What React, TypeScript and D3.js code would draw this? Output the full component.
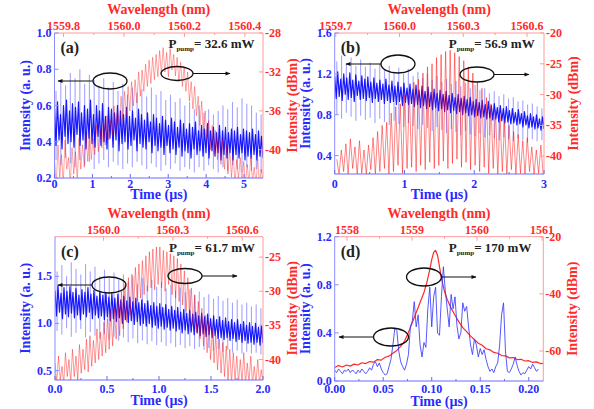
import React from 'react';
import * as d3 from 'd3';

// ---- panel (a) ----
const aBlueCore = [
  0.58, 0.38, 0.62, 0.41, 0.55, 0.36, 0.60, 0.43, 0.63, 0.39,
  0.57, 0.40, 0.61, 0.37, 0.59, 0.44, 0.62, 0.38, 0.56, 0.41,
  0.60, 0.36, 0.58, 0.42, 0.63, 0.39, 0.55, 0.37, 0.60, 0.43,
  0.57, 0.38, 0.61, 0.40, 0.54, 0.36, 0.59, 0.42, 0.58, 0.37,
  0.56, 0.41, 0.60, 0.35, 0.57, 0.39, 0.55, 0.40, 0.59, 0.36,
  0.54, 0.38, 0.57, 0.41, 0.53, 0.35, 0.58, 0.39, 0.55, 0.37,
  0.52, 0.36, 0.56, 0.40, 0.51, 0.34, 0.55, 0.38, 0.53, 0.35,
  0.50, 0.37, 0.54, 0.33, 0.52, 0.38, 0.49, 0.34, 0.53, 0.36,
  0.51, 0.33, 0.48, 0.37, 0.52, 0.32, 0.50, 0.35, 0.47, 0.34,
  0.50, 0.31, 0.48, 0.36, 0.51, 0.33, 0.46, 0.35, 0.49, 0.32,
  0.47, 0.34, 0.50, 0.31, 0.46, 0.35, 0.48, 0.32, 0.45, 0.34,
  0.49, 0.30, 0.46, 0.33, 0.48, 0.31, 0.45, 0.34, 0.47, 0.30,
  0.46, 0.33, 0.48, 0.31, 0.44, 0.34, 0.47, 0.30, 0.46, 0.32,
  0.45, 0.31, 0.47, 0.33, 0.44, 0.30, 0.46, 0.32, 0.43, 0.31,
];
const aSpikeHi = [
  0.68, 0.74, 0.71, 0.78, 0.75, 0.80, 0.72, 0.77, 0.74, 0.71,
  0.75, 0.70, 0.73, 0.68, 0.72, 0.66, 0.70, 0.67, 0.69, 0.65,
  0.70, 0.66, 0.68, 0.63, 0.66, 0.62, 0.64, 0.60, 0.62, 0.58,
  0.60, 0.56, 0.58, 0.55, 0.57, 0.60, 0.58, 0.62, 0.59, 0.64,
  0.61, 0.60, 0.56, 0.55,
];
const aSpikeLo = [
  0.30, 0.27, 0.31, 0.28, 0.26, 0.30, 0.27, 0.29, 0.25, 0.28,
  0.30, 0.26, 0.29, 0.27, 0.25, 0.28, 0.26, 0.29, 0.27, 0.25,
  0.28, 0.26, 0.24, 0.27, 0.25, 0.28, 0.24, 0.26, 0.25, 0.23,
  0.26, 0.24, 0.27, 0.25, 0.23, 0.26, 0.24, 0.27, 0.25, 0.23,
  0.26, 0.24, 0.25, 0.23,
];
const aRed = [
  -41.0, -43.5, -39.5, -42.8, -40.5, -43.5, -39.0, -42.0, -40.8, -43.5,
  -39.8, -42.5, -40.2, -43.2, -38.8, -42.0, -39.5, -41.8, -38.5, -41.2,
  -38.0, -41.0, -38.8, -40.5, -37.5, -40.2, -38.0, -39.8, -36.8, -39.5,
  -36.5, -39.0, -37.0, -38.5, -35.5, -38.2, -35.8, -37.5, -34.5, -37.0,
  -34.0, -36.5, -33.5, -36.0, -33.0, -35.5, -32.8, -35.2, -32.0, -34.5,
  -31.8, -34.0, -31.2, -33.5, -30.8, -33.2, -30.5, -32.8, -30.2, -32.5,
  -29.8, -32.2, -29.5, -32.0, -30.0, -32.5, -29.6, -31.8, -30.2, -32.4,
  -30.5, -33.0, -31.0, -33.5, -31.5, -34.0, -32.0, -35.0, -33.0, -35.8,
  -33.5, -36.5, -34.5, -37.5, -35.0, -38.5, -36.0, -39.0, -37.0, -40.0,
  -37.5, -40.5, -38.0, -41.0, -38.8, -41.5, -39.0, -42.0, -39.5, -42.5,
  -40.0, -42.8, -40.5, -43.5, -41.0, -43.0, -40.8, -43.5, -41.2, -43.5,
  -41.5, -43.5, -40.8, -43.2, -41.8, -43.5, -41.0, -43.5, -42.0, -43.5,
];
const aTimeTicks = [0, 1, 2, 3, 4, 5];
const aWaveTicks = [1559.8, 1560.0, 1560.2, 1560.4];
const aLeftTicks = [0.2, 0.4, 0.6, 0.8, 1.0];
const aRightTicks = [-40, -36, -32, -28];

// ---- panel (b) ----
const bBlueCore = [
  1.18, 0.96, 1.22, 0.98, 1.15, 0.94, 1.20, 1.00, 1.16, 0.95,
  1.21, 0.97, 1.14, 0.93, 1.19, 0.99, 1.13, 0.95, 1.18, 0.96,
  1.15, 0.94, 1.17, 0.97, 1.12, 0.92, 1.16, 0.96, 1.11, 0.93,
  1.14, 0.95, 1.10, 0.91, 1.15, 0.94, 1.09, 0.92, 1.13, 0.93,
  1.08, 0.90, 1.12, 0.93, 1.07, 0.89, 1.11, 0.92, 1.06, 0.90,
  1.10, 0.91, 1.05, 0.88, 1.09, 0.90, 1.04, 0.87, 1.08, 0.89,
  1.03, 0.86, 1.07, 0.88, 1.02, 0.85, 1.05, 0.87, 1.01, 0.84,
  1.04, 0.86, 1.00, 0.83, 1.03, 0.85, 0.99, 0.82, 1.01, 0.84,
  0.97, 0.81, 1.00, 0.83, 0.96, 0.80, 0.98, 0.82, 0.95, 0.79,
  0.97, 0.80, 0.93, 0.78, 0.95, 0.79, 0.92, 0.77, 0.94, 0.78,
  0.90, 0.76, 0.93, 0.77, 0.89, 0.75, 0.91, 0.76, 0.87, 0.73,
  0.89, 0.74, 0.86, 0.72, 0.88, 0.73, 0.84, 0.71, 0.86, 0.72,
  0.82, 0.70, 0.85, 0.71, 0.81, 0.68, 0.83, 0.70, 0.79, 0.67,
  0.81, 0.68, 0.78, 0.66, 0.80, 0.67, 0.76, 0.65, 0.78, 0.66,
];
const bSpikeHi = [
  1.32, 1.38, 1.30, 1.36, 1.28, 1.34, 1.27, 1.31, 1.25, 1.30,
  1.24, 1.28, 1.22, 1.26, 1.20, 1.25, 1.18, 1.22, 1.16, 1.20,
  1.14, 1.18, 1.12, 1.15, 1.10, 1.13, 1.08, 1.11, 1.06, 1.09,
  1.04, 1.06, 1.01, 1.03, 0.98, 1.00, 0.96, 0.97, 0.93, 0.94,
  0.90, 0.91, 0.88, 0.86,
];
const bSpikeLo = [
  0.80, 0.76, 0.82, 0.78, 0.74, 0.79, 0.75, 0.77, 0.72, 0.76,
  0.73, 0.70, 0.74, 0.71, 0.68, 0.72, 0.69, 0.66, 0.70, 0.67,
  0.64, 0.68, 0.65, 0.62, 0.66, 0.63, 0.60, 0.64, 0.61, 0.59,
  0.62, 0.58, 0.60, 0.57, 0.55, 0.58, 0.56, 0.54, 0.57, 0.55,
  0.53, 0.56, 0.54, 0.55,
];
const bRedPeak = [
  -40.5, -39.0, -38.0, -37.2, -38.5, -37.5, -39.0, -38.2, -37.0, -36.0,
  -35.0, -34.5, -33.0, -32.0, -31.5, -30.0, -29.5, -28.0, -27.5, -26.5,
  -25.5, -25.0, -24.0, -23.5, -23.0, -22.8, -23.2, -23.8, -24.5, -25.5,
  -26.5, -28.0, -29.0, -30.5, -31.5, -32.5, -33.5, -34.5, -35.0, -36.0,
  -36.5, -37.5, -37.0, -38.5, -39.0, -38.2,
];
const bRedLow = [
  -43.0, -42.5, -43.0, -42.0, -43.0, -42.8, -43.0, -42.2, -43.0, -42.5,
  -42.0, -43.0, -42.5, -41.5, -42.8, -42.0, -41.8, -42.5, -41.5, -42.2,
  -41.0, -42.0, -41.5, -40.8, -42.0, -41.2, -40.5, -41.8, -41.0, -42.2,
  -41.5, -42.5, -41.8, -42.8, -42.0, -43.0, -42.5, -43.0, -42.2, -43.0,
  -42.8, -43.0, -42.5, -43.0, -42.8, -43.0,
];
const bTimeTicks = [0, 1, 2, 3];
const bWaveTicks = [1559.7, 1560.0, 1560.3, 1560.6];
const bLeftTicks = [0.4, 0.8, 1.2, 1.6];
const bRightTicks = [-40, -35, -30, -25, -20];

// ---- panel (c) ----
const cBlueCore = [
  1.35, 1.08, 1.40, 1.12, 1.32, 1.05, 1.38, 1.10, 1.34, 1.07,
  1.39, 1.11, 1.33, 1.06, 1.37, 1.09, 1.30, 1.04, 1.36, 1.10,
  1.33, 1.07, 1.38, 1.12, 1.31, 1.05, 1.35, 1.09, 1.29, 1.06,
  1.34, 1.08, 1.30, 1.04, 1.33, 1.07, 1.28, 1.03, 1.32, 1.05,
  1.27, 1.02, 1.31, 1.06, 1.25, 1.00, 1.29, 1.04, 1.24, 1.01,
  1.28, 1.03, 1.23, 0.99, 1.27, 1.02, 1.22, 0.98, 1.25, 1.00,
  1.21, 0.97, 1.24, 1.00, 1.19, 0.96, 1.22, 0.98, 1.18, 0.95,
  1.21, 0.97, 1.17, 0.94, 1.20, 0.96, 1.15, 0.93, 1.18, 0.95,
  1.14, 0.92, 1.17, 0.94, 1.12, 0.90, 1.15, 0.93, 1.11, 0.89,
  1.14, 0.91, 1.10, 0.88, 1.12, 0.90, 1.08, 0.87, 1.11, 0.89,
  1.07, 0.86, 1.10, 0.88, 1.05, 0.85, 1.08, 0.87, 1.04, 0.84,
  1.07, 0.85, 1.03, 0.83, 1.06, 0.85, 1.02, 0.82, 1.04, 0.84,
  1.01, 0.81, 1.04, 0.83, 0.99, 0.80, 1.02, 0.82, 0.98, 0.79,
  1.01, 0.80, 0.97, 0.78, 1.00, 0.80, 0.96, 0.77, 0.98, 0.79,
];
const cSpikeHi = [
  1.55, 1.62, 1.50, 1.65, 1.58, 1.52, 1.63, 1.55, 1.60, 1.50,
  1.57, 1.48, 1.54, 1.46, 1.52, 1.44, 1.50, 1.42, 1.48, 1.40,
  1.46, 1.39, 1.44, 1.37, 1.41, 1.35, 1.38, 1.33, 1.36, 1.30,
  1.34, 1.28, 1.31, 1.26, 1.29, 1.24, 1.27, 1.22, 1.25, 1.20,
  1.22, 1.18, 1.20, 1.16,
];
const cSpikeLo = [
  0.92, 0.88, 0.95, 0.86, 0.90, 0.94, 0.85, 0.91, 0.87, 0.84,
  0.89, 0.83, 0.86, 0.82, 0.85, 0.80, 0.84, 0.79, 0.82, 0.78,
  0.81, 0.77, 0.80, 0.76, 0.79, 0.75, 0.77, 0.74, 0.76, 0.73,
  0.75, 0.72, 0.74, 0.71, 0.73, 0.70, 0.72, 0.69, 0.71, 0.68,
  0.70, 0.68, 0.69, 0.67,
];
const cRed = [
  -40.5, -43.5, -39.5, -43.0, -41.0, -43.5, -39.0, -42.5, -40.0, -43.5,
  -38.5, -42.5, -39.5, -43.0, -37.8, -42.0, -38.5, -41.5, -37.0, -41.8,
  -36.5, -41.0, -37.2, -40.5, -35.5, -40.0, -36.0, -39.5, -34.5, -39.0,
  -34.0, -38.5, -33.0, -38.0, -32.5, -37.0, -31.0, -36.5, -30.0, -35.5,
  -29.0, -34.5, -28.0, -33.5, -27.5, -32.5, -26.5, -31.5, -26.0, -31.0,
  -25.5, -30.5, -24.8, -30.0, -24.2, -29.5, -23.8, -29.8, -23.5, -29.0,
  -23.5, -29.5, -24.0, -30.0, -24.2, -29.0, -24.5, -30.5, -24.8, -31.0,
  -25.2, -31.5, -26.0, -32.0, -27.0, -33.0, -28.0, -34.0, -29.5, -35.0,
  -30.5, -36.0, -31.5, -37.0, -32.5, -38.0, -33.5, -39.0, -34.5, -40.0,
  -35.5, -40.5, -36.5, -41.5, -37.0, -42.0, -37.5, -42.5, -38.0, -43.0,
  -38.5, -43.5, -39.0, -43.0, -39.5, -43.5, -40.0, -43.5, -39.0, -43.5,
  -40.5, -43.5, -39.5, -43.5, -41.0, -43.5, -40.0, -43.5, -41.5, -43.5,
];
const cTimeTicks = [0, 0.5, 1.0, 1.5, 2.0];
const cWaveTicks = [1560.0, 1560.3, 1560.6];
const cLeftTicks = [0.5, 1.0, 1.5];
const cRightTicks = [-40, -35, -30, -25];

// ---- panel (d) ----
const dBlue = [
  0.09, 0.07, 0.10, 0.08, 0.06, 0.09, 0.08, 0.10, 0.07, 0.09,
  0.08, 0.06, 0.09, 0.07, 0.10, 0.08, 0.06, 0.08, 0.11, 0.09,
  0.14, 0.16, 0.12, 0.15, 0.10, 0.07, 0.05, 0.06, 0.12, 0.18,
  0.30, 0.44, 0.42, 0.25, 0.16, 0.12, 0.09, 0.14, 0.22, 0.45,
  0.50, 0.66, 0.45, 0.55, 0.30, 0.20, 0.32, 0.28, 0.60, 0.78,
  0.45, 0.70, 0.78, 0.40, 0.38, 0.70, 0.95, 0.75, 0.60, 0.45,
  0.72, 0.60, 0.70, 0.46, 0.35, 0.40, 0.65, 0.58, 0.62, 0.45,
  0.30, 0.22, 0.35, 0.30, 0.20, 0.27, 0.22, 0.26, 0.18, 0.12,
  0.08, 0.10, 0.07, 0.12, 0.15, 0.30, 0.55, 0.65, 0.25, 0.08,
  0.07, 0.10, 0.14, 0.20, 0.13, 0.08, 0.05, 0.07, 0.06, 0.09,
  0.12, 0.10, 0.14, 0.11, 0.08, 0.10,
];
const dRed: [number, number][] = [
  [0, -65.8], [0.004, -65.1], [0.008, -65.6], [0.012, -64.9], [0.016, -65.3],
  [0.02, -64.6], [0.024, -64.9], [0.028, -64.1], [0.032, -64.4], [0.036, -63.7],
  [0.04, -63.9], [0.044, -63.0], [0.048, -63.2], [0.052, -62.2], [0.056, -61.8],
  [0.06, -60.8], [0.064, -59.8], [0.068, -58.4], [0.072, -56.5], [0.076, -53.5],
  [0.08, -50.0], [0.084, -46.5], [0.088, -43.0], [0.092, -39.5], [0.095, -36.0],
  [0.098, -31.5], [0.1, -28.0], [0.102, -25.5], [0.104, -24.8], [0.106, -26.5],
  [0.108, -30.5], [0.11, -34.5], [0.113, -39.0], [0.116, -42.0], [0.12, -45.0],
  [0.124, -47.5], [0.128, -49.8], [0.132, -51.8], [0.136, -53.2], [0.14, -54.8],
  [0.144, -56.0], [0.148, -57.3], [0.152, -58.0], [0.156, -59.2], [0.16, -59.6],
  [0.164, -60.5], [0.168, -60.8], [0.172, -61.6], [0.176, -61.7], [0.18, -62.4],
  [0.184, -62.3], [0.188, -63.0], [0.192, -62.9], [0.196, -63.5], [0.2, -63.4],
  [0.204, -64.0], [0.208, -63.8], [0.212, -64.4], [0.215, -64.3],
];
const dTimeTicks = [0, 0.05, 0.1, 0.15, 0.2];
const dWaveTicks = [1558, 1559, 1560, 1561];
const dLeftTicks = [0.0, 0.4, 0.8, 1.2];
const dRightTicks = [-60, -40, -20];

const BLUE = '#0000ff';
const BLUE_TXT = '#2a2aff';
const RED = '#ff0000';
const RED_TXT = '#ff2a2a';
const FONT = "'Liberation Serif', 'Times New Roman', 'DejaVu Serif', serif";

type Pt = [number, number];
const even = (vals: number[], t0: number, t1: number): Pt[] =>
  vals.map((v, i) => [t0 + (i * (t1 - t0)) / (vals.length - 1), v]);
const spikes = (hi: number[], lo: number[], t0: number, t1: number): Pt[] => {
  const step = (t1 - t0) / (hi.length - 1);
  const out: Pt[] = [];
  hi.forEach((h, i) => {
    out.push([t0 + i * step, h]);
    out.push([t0 + i * step + step / 2, lo[i]]);
  });
  return out;
};
// vertical strokes: each spike goes from its low to its high value at one time
type Bar = [number, number, number];
const bars = (hi: number[], lo: number[], t0: number, t1: number): Bar[] =>
  hi.map((h, i) => [t0 + (i * (t1 - t0)) / (hi.length - 1), lo[i], h]);
// minor ticks halfway between the labelled ones
const halves = (ticks: number[]) => ticks.slice(1).map((t, i) => (t + ticks[i]) / 2);

type Trace = { pts: Pt[]; side: 'l' | 'r'; color: string; w: number; op: number };
type Oval = { cx: number; cy: number; rx: number; ry: number; to: number };

const panels = [
  {
    id: 'a', label: '(a)', pump: '= 32.6 mW', box: [54.5, 33, 263, 178],
    tDom: [0, 5.5], wDom: [1559.77, 1560.46], lDom: [0.2, 1.0], rDom: [-42.9, -28],
    tTicks: aTimeTicks, wTicks: aWaveTicks, lTicks: aLeftTicks, rTicks: aRightTicks,
    fT: '.0f', fW: '.1f', fL: '.1f', fR: '.0f', botDy: 10, timeDy: 21,
    spikes: bars(aSpikeHi, aSpikeLo, 0.04, 5.45),
    traces: [
      { pts: even(aBlueCore, 0, 5.5), side: 'l', color: BLUE, w: 1.2, op: 0.9 },
      { pts: even(aRed, 0, 5.5), side: 'r', color: RED, w: 0.8, op: 0.45 },
    ] as Trace[],
    ovals: [
      { cx: 110, cy: 81, rx: 17, ry: 8, to: 58 },
      { cx: 177, cy: 73.5, rx: 16, ry: 7, to: 230 },
    ] as Oval[],
  },
  {
    id: 'b', label: '(b)', pump: '= 56.9 mW', box: [334.7, 33, 544, 174],
    tDom: [0, 3], wDom: [1559.695, 1560.68], lDom: [0.22, 1.6], rDom: [-42.9, -20],
    tTicks: bTimeTicks, wTicks: bWaveTicks, lTicks: bLeftTicks, rTicks: bRightTicks,
    fT: '.0f', fW: '.1f', fL: '.1f', fR: '.0f', botDy: 14, timeDy: 25,
    spikes: bars(bSpikeHi, bSpikeLo, 0.03, 2.97),
    traces: [
      { pts: even(bBlueCore, 0, 3), side: 'l', color: BLUE, w: 1.2, op: 0.9 },
      { pts: spikes(bRedPeak, bRedLow, 0.03, 2.955), side: 'r', color: RED, w: 0.8, op: 0.6 },
    ] as Trace[],
    ovals: [
      { cx: 398, cy: 64, rx: 17, ry: 9, to: 346 },
      { cx: 477, cy: 74.5, rx: 17, ry: 7.5, to: 529 },
    ] as Oval[],
  },
  {
    id: 'c', label: '(c)', pump: '= 61.7 mW', box: [55, 236.7, 263, 380],
    tDom: [0, 2], wDom: [1559.79, 1560.69], lDom: [0.4, 1.92], rDom: [-43, -22],
    tTicks: cTimeTicks, wTicks: cWaveTicks, lTicks: cLeftTicks, rTicks: cRightTicks,
    fT: '.1f', fW: '.1f', fL: '.1f', fR: '.0f', botDy: 13, timeDy: 25,
    spikes: bars(cSpikeHi, cSpikeLo, 0.02, 1.98),
    traces: [
      { pts: even(cBlueCore, 0, 2), side: 'l', color: BLUE, w: 1.2, op: 0.9 },
      { pts: even(cRed, 0, 2), side: 'r', color: RED, w: 0.9, op: 0.45 },
    ] as Trace[],
    ovals: [
      { cx: 109, cy: 285, rx: 17, ry: 8, to: 58 },
      { cx: 185, cy: 276, rx: 17, ry: 7.5, to: 237 },
    ] as Oval[],
  },
  {
    id: 'd', label: '(d)', pump: '= 170 mW', box: [334.7, 236.7, 543.3, 381],
    tDom: [0, 0.215], wDom: [1557.81, 1561.02], lDom: [0, 1.2], rDom: [-70.5, -20],
    tTicks: dTimeTicks, wTicks: dWaveTicks, lTicks: dLeftTicks, rTicks: dRightTicks,
    fT: '.2f', fW: '.0f', fL: '.1f', fR: '.0f', botDy: 12, timeDy: 25,
    spikes: [] as Bar[],
    traces: [
      { pts: dRed, side: 'r', color: RED, w: 1.2, op: 0.85 },
      { pts: even(dBlue, 0, 0.21), side: 'l', color: '#3a3aff', w: 1.0, op: 0.85 },
    ] as Trace[],
    ovals: [
      { cx: 424, cy: 277, rx: 17.5, ry: 9, to: 476 },
      { cx: 391, cy: 337, rx: 17.5, ry: 9, to: 339 },
    ] as Oval[],
  },
];

type P = (typeof panels)[number];

function Panel({ p }: { p: P }) {
  const [x0, y0, x1, y1] = p.box;
  const x = d3.scaleLinear().domain(p.tDom).range([x0, x1]);
  const xw = d3.scaleLinear().domain(p.wDom).range([x0, x1]);
  const yl = d3.scaleLinear().domain(p.lDom).range([y1, y0]);
  const yr = d3.scaleLinear().domain(p.rDom).range([y1, y0]);
  const cx = (x0 + x1) / 2;
  const cy = (y0 + y1) / 2;
  const tick = 4;
  const fmt = (f: string) => (v: number) => d3.format(f)(v).replace('\u2212', '-');
  const txt = { fontFamily: FONT, fontWeight: 700 } as const;

  return (
    <g>
      <defs>
        <clipPath id={`clip-${p.id}`}>
          <rect x={x0} y={y0} width={x1 - x0} height={y1 - y0} />
        </clipPath>
      </defs>
      <rect x={x0} y={y0} width={x1 - x0} height={y1 - y0} fill="#fff" />
      <g clipPath={`url(#clip-${p.id})`}>
        {p.spikes.map((s, i) => (
          <line key={`s${i}`} x1={x(s[0])} x2={x(s[0])} y1={yl(s[1])} y2={yl(s[2])}
            stroke="#4a4aff" strokeWidth={1.1} strokeOpacity={0.5} />
        ))}
        {p.traces.map((tr, i) => {
          const ys = tr.side === 'l' ? yl : yr;
          const line = d3.line<Pt>().x((d) => x(d[0])).y((d) => ys(d[1]));
          return (
            <path key={i} d={line(tr.pts) ?? ''} fill="none" stroke={tr.color}
              strokeWidth={tr.w} strokeOpacity={tr.op} strokeLinejoin="round" />
          );
        })}
      </g>
      {/* frame */}
      <line x1={x0} x2={x1} y1={y0} y2={y0} stroke="#ff9a9a" strokeWidth={1} />
      <line x1={x1} x2={x1} y1={y0} y2={y1} stroke="#ff9a9a" strokeWidth={1} />
      <line x1={x0} x2={x0} y1={y0} y2={y1} stroke="#8c8cff" strokeWidth={1} />
      <line x1={x0} x2={x1} y1={y1} y2={y1} stroke="#6a6aff" strokeWidth={1} />
      {/* bottom axis */}
      {halves(p.tTicks).map((t) => (
        <line key={`tm${t}`} x1={x(t)} x2={x(t)} y1={y1} y2={y1 - 2} stroke="#6a6aff" />
      ))}
      {p.tTicks.map((t) => (
        <g key={`t${t}`}>
          <line x1={x(t)} x2={x(t)} y1={y1} y2={y1 - tick} stroke="#6a6aff" />
          <text x={x(t)} y={y1 + p.botDy} textAnchor="middle" fontSize={12} fill={BLUE_TXT} {...txt}>
            {fmt(p.fT)(t)}
          </text>
        </g>
      ))}
      <text x={cx} y={y1 + p.timeDy} textAnchor="middle" fontSize={14} fill={BLUE_TXT} {...txt}>
        Time (µs)
      </text>
      {/* top axis */}
      {halves(p.wTicks).map((w) => (
        <line key={`wm${w}`} x1={xw(w)} x2={xw(w)} y1={y0} y2={y0 + 2} stroke="#ff9a9a" />
      ))}
      {p.wTicks.map((w) => (
        <g key={`w${w}`}>
          <line x1={xw(w)} x2={xw(w)} y1={y0} y2={y0 + tick} stroke="#ff9a9a" />
          <text x={xw(w)} y={y0 - 3} textAnchor="middle" fontSize={12} fill={RED_TXT} {...txt}>
            {fmt(p.fW)(w)}
          </text>
        </g>
      ))}
      <text x={cx} y={y0 - 19} textAnchor="middle" fontSize={14} fill={RED_TXT} {...txt}>
        Wavelength (nm)
      </text>
      {/* left axis */}
      {p.lTicks.map((v) => (
        <g key={`l${v}`}>
          <line x1={x0} x2={x0 + tick} y1={yl(v)} y2={yl(v)} stroke="#8c8cff" />
          <text x={x0 - 3} y={yl(v) + 4} textAnchor="end" fontSize={12} fill={BLUE_TXT} {...txt}>
            {fmt(p.fL)(v)}
          </text>
        </g>
      ))}
      <text transform={`translate(${x0 - 25},${cy}) rotate(-90)`} textAnchor="middle"
        fontSize={14} fill={BLUE_TXT} {...txt}>
        Intensity (a. u.)
      </text>
      {/* right axis */}
      {p.rTicks.map((v) => (
        <g key={`r${v}`}>
          <line x1={x1} x2={x1 - tick} y1={yr(v)} y2={yr(v)} stroke="#ff9a9a" />
          <text x={x1 + 2} y={yr(v) + 4} textAnchor="start" fontSize={12} fill={RED_TXT} {...txt}>
            {fmt(p.fR)(v)}
          </text>
        </g>
      ))}
      <text transform={`translate(${x1 + 34},${cy}) rotate(-90)`} textAnchor="middle"
        fontSize={14} fill={RED_TXT} {...txt}>
        Intensity (dBm)
      </text>
      {/* labels */}
      <text x={x0 + 6} y={y0 + 20} fontSize={16} fill="#222" {...txt}>{p.label}</text>
      <text x={x0 + 114} y={y0 + 15} fontSize={13} fill="#222" {...txt}>
        P<tspan fontSize={7} dy={3}>pump</tspan><tspan dy={-3}>{p.pump}</tspan>
      </text>
      {/* ovals with arrows */}
      {p.ovals.map((o, i) => {
        const sx = o.to < o.cx ? o.cx - o.rx : o.cx + o.rx;
        return (
          <g key={`o${i}`}>
            <ellipse cx={o.cx} cy={o.cy} rx={o.rx} ry={o.ry} fill="none" stroke="#111" strokeWidth={1.3} />
            <line x1={sx} x2={o.to} y1={o.cy} y2={o.cy} stroke="#111" strokeWidth={1.2}
              markerEnd="url(#arrow)" />
          </g>
        );
      })}
    </g>
  );
}

export default function App() {
  return (
    <svg width={594} height={409} style={{ position: 'absolute', left: 0, top: 0, background: '#fff' }}>
      <defs>
        <marker id="arrow" viewBox="0 0 10 10" refX={9} refY={5} markerWidth={6} markerHeight={5}
          orient="auto" markerUnits="userSpaceOnUse">
          <path d="M0,1 L10,5 L0,9 z" fill="#111" />
        </marker>
      </defs>
      {panels.map((p) => (
        <Panel key={p.id} p={p} />
      ))}
    </svg>
  );
}
